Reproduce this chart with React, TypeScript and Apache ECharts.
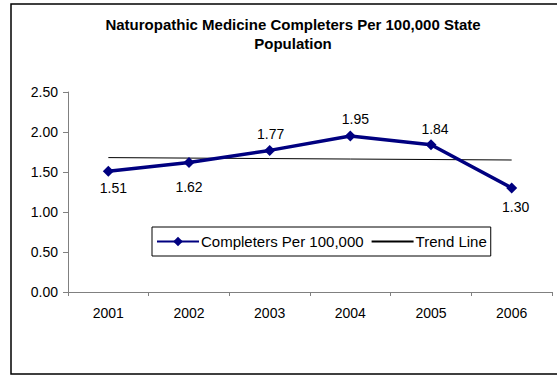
import React, { useEffect, useRef } from "react";
import * as echarts from "echarts";

const titleText = "Naturopathic Medicine Completers Per 100,000 State\nPopulation";
const years = ["2001", "2002", "2003", "2004", "2005", "2006"];
const completers = [1.51, 1.62, 1.77, 1.95, 1.84, 1.3];
const trendLine = [1.68, 1.674, 1.668, 1.662, 1.656, 1.65];
const seriesNames = ["Completers Per 100,000", "Trend Line"];

const FONT = "'Liberation Sans', Arial, sans-serif";

// label placement per point (style only)
const labelPlacement: { position: string; offset: [number, number] }[] = [
  { position: "bottom", offset: [5, -4] },
  { position: "bottom", offset: [0, 4] },
  { position: "top", offset: [1, 4] },
  { position: "top", offset: [5, 3] },
  { position: "top", offset: [4, 5] },
  { position: "bottom", offset: [4, -2] },
];

export default function App() {
  const ref = useRef<HTMLDivElement>(null);
  useEffect(() => {
    if (!ref.current) return;
    const chart = echarts.init(ref.current, undefined, { renderer: "svg" });
    chart.setOption({
      animation: false,
      backgroundColor: "#ffffff",
      textStyle: { fontFamily: FONT },
      title: {
        text: titleText,
        left: 288,
        top: 10,
        textAlign: "center",
        textStyle: {
          fontFamily: FONT,
          fontSize: 15,
          fontWeight: "bold",
          color: "#000",
          lineHeight: 19,
        },
      },
      legend: {
        left: 152,
        top: 227,
        padding: [7, 4, 7, 4],
        borderColor: "#000",
        borderWidth: 1,
        itemWidth: 42,
        itemHeight: 12,
        itemGap: 7,
        textStyle: { fontFamily: FONT, fontSize: 15, color: "#000", padding: [0, 0, 0, -3] },
        data: [
          { name: seriesNames[0] },
          { name: seriesNames[1], itemStyle: { opacity: 0 } },
        ],
      },
      grid: { left: 68, right: 5, top: 92, bottom: 85 },
      xAxis: {
        type: "category",
        data: years,
        boundaryGap: true,
        axisLine: { lineStyle: { color: "#808080", width: 1 } },
        axisTick: { show: true, length: 4, lineStyle: { color: "#808080" } },
        axisLabel: { fontFamily: FONT, fontSize: 14, color: "#000", margin: 14 },
        splitLine: { show: false },
      },
      yAxis: {
        type: "value",
        min: 0,
        max: 2.5,
        interval: 0.5,
        axisLine: { show: true, lineStyle: { color: "#808080", width: 1 } },
        axisTick: { show: true, length: 5, lineStyle: { color: "#808080" } },
        axisLabel: {
          fontFamily: FONT,
          fontSize: 14,
          color: "#000",
          margin: 10,
          formatter: (v: number) => v.toFixed(2),
        },
        splitLine: { show: false },
      },
      series: [
        {
          name: seriesNames[0],
          type: "line",
          data: completers.map((v, i) => ({
            value: v,
            label: {
              show: true,
              position: labelPlacement[i].position,
              offset: labelPlacement[i].offset,
              distance: 8,
            },
          })),
          symbol: "diamond",
          symbolSize: 11,
          lineStyle: { color: "#000080", width: 3.5 },
          itemStyle: { color: "#000080" },
          label: {
            show: true,
            fontFamily: FONT,
            fontSize: 14,
            color: "#000",
            formatter: (p: any) => Number(p.value).toFixed(2),
          },
          z: 3,
        },
        {
          name: seriesNames[1],
          type: "line",
          data: trendLine,
          symbol: "none",
          lineStyle: { color: "#000", width: 1 },
          itemStyle: { color: "#000" },
          z: 2,
        },
      ],
      graphic: [
        {
          type: "rect",
          shape: { x: 11, y: 4, width: 560, height: 370 },
          style: { fill: "none", stroke: "#000", lineWidth: 1.5 },
          silent: true,
        },
      ],
    });
    return () => chart.dispose();
  }, []);
  return (
    <div
      ref={ref}
      style={{ position: "fixed", left: 0, top: 0, width: 557, height: 377 }}
    />
  );
}
